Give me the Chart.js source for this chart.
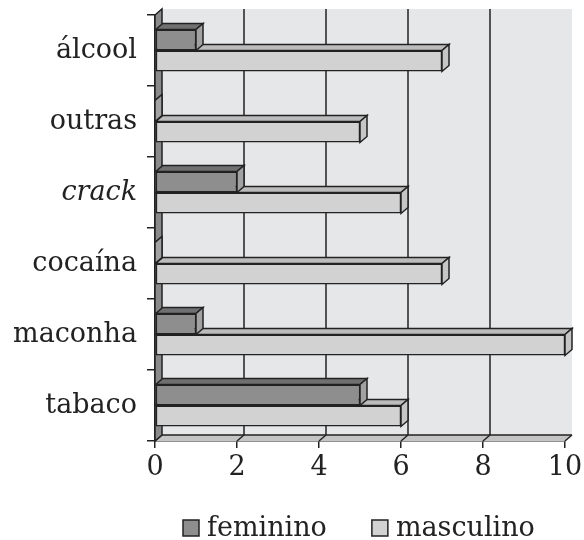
<!DOCTYPE html>
<html><head><meta charset="utf-8">
<script src="https://cdn.jsdelivr.net/npm/chart.js@4.4.1/dist/chart.umd.min.js"></script>
<style>html,body{margin:0;padding:0;background:#fff}#wrap{width:584px;height:540px}</style>
</head><body><div id="wrap"><canvas id="c" width="584" height="540"></canvas></div>
<script>
const categories = ['álcool', 'outras', 'crack', 'cocaína', 'maconha', 'tabaco'];
const seriesNames = ['feminino', 'masculino'];
const feminino = [1, 0, 2, 0, 1, 5];
const masculino = [7, 5, 6, 7, 10, 6];
const xTickValues = [0, 2, 4, 6, 8, 10];

const DX = 7, DY = -6;
const FONT = 'DejaVu Serif';
const INK = '#222';

function poly(ctx, pts, fill, stroke) {
  ctx.beginPath();
  ctx.moveTo(pts[0][0], pts[0][1]);
  for (let i = 1; i < pts.length; i++) ctx.lineTo(pts[i][0], pts[i][1]);
  ctx.closePath();
  if (fill) { ctx.fillStyle = fill; ctx.fill(); }
  if (stroke) { ctx.strokeStyle = stroke; ctx.stroke(); }
}

const depthPlugin = {
  id: 'depth',
  beforeDatasetsDraw(chart) {
    const { ctx, chartArea: a, scales: { x } } = chart;
    ctx.save();
    ctx.lineWidth = 1.5;
    ctx.fillStyle = '#e6e7e9';
    ctx.fillRect(a.left + DX, a.top + DY, a.right - a.left, a.bottom - a.top);
    ctx.strokeStyle = INK;
    xTickValues.forEach(v => {
      if (v <= x.min || v >= x.max) return;
      const px = x.getPixelForValue(v) + DX;
      ctx.beginPath(); ctx.moveTo(px, a.top + DY); ctx.lineTo(px, a.bottom + DY); ctx.stroke();
    });
    // floor
    poly(ctx, [[a.left, a.bottom], [a.left + DX, a.bottom + DY], [a.right + DX, a.bottom + DY], [a.right, a.bottom]], '#c4c4c4', null);
    ctx.strokeStyle = INK;
    ctx.beginPath(); ctx.moveTo(a.left + DX, a.bottom + DY); ctx.lineTo(a.right + DX, a.bottom + DY); ctx.stroke();
    xTickValues.forEach(v => {
      const px = x.getPixelForValue(v);
      ctx.beginPath(); ctx.moveTo(px, a.bottom); ctx.lineTo(px + DX, a.bottom + DY); ctx.stroke();
    });
    // left wall
    poly(ctx, [[a.left, a.top], [a.left + DX, a.top + DY], [a.left + DX, a.bottom + DY], [a.left, a.bottom]], '#8a8a8a', INK);
    ctx.restore();
  },
  afterDatasetDraw(chart, args) {
    const { ctx } = chart;
    const ds = chart.data.datasets[args.index];
    ctx.save();
    ctx.lineWidth = 1.5;
    args.meta.data.forEach(el => {
      const { x: xe, base, y, height } = el.getProps(['x', 'base', 'y', 'height'], true);
      const t = y - height / 2, b = y + height / 2;
      poly(ctx, [[base, t], [base + DX, t + DY], [xe + DX, t + DY], [xe, t]], ds.topColor, INK);
      poly(ctx, [[xe, t], [xe + DX, t + DY], [xe + DX, b + DY], [xe, b]], ds.sideColor, INK);
    });
    ctx.restore();
  },
  afterDraw(chart) {
    const { ctx } = chart;
    ctx.save();
    ctx.font = '27px "' + FONT + '"';
    ctx.textBaseline = 'alphabetic';
    ctx.lineWidth = 1.5;
    let x0 = 183;
    const baseY = 536;
    chart.data.datasets.forEach(ds => {
      ctx.fillStyle = ds.backgroundColor;
      ctx.fillRect(x0, baseY - 16, 16, 16);
      ctx.strokeStyle = INK;
      ctx.strokeRect(x0, baseY - 16, 16, 16);
      ctx.fillStyle = INK;
      const tx = x0 + 24;
      ctx.fillText(ds.label, tx, baseY);
      x0 = tx + ctx.measureText(ds.label).width + 45;
    });
    ctx.restore();
  }
};

Chart.defaults.font.family = FONT;
Chart.defaults.color = INK;

new Chart(document.getElementById('c'), {
  type: 'bar',
  data: {
    labels: categories,
    datasets: [
      { label: seriesNames[0], data: feminino, backgroundColor: '#8e8e8e', topColor: '#707070', sideColor: '#a2a2a2',
        borderColor: INK, borderWidth: 1.5, borderSkipped: false, barPercentage: 1, categoryPercentage: 0.59 },
      { label: seriesNames[1], data: masculino, backgroundColor: '#d2d2d2', topColor: '#bcbcbc', sideColor: '#c6c6c6',
        borderColor: INK, borderWidth: 1.5, borderSkipped: false, barPercentage: 1, categoryPercentage: 0.59 }
    ]
  },
  options: {
    indexAxis: 'y',
    responsive: false,
    animation: false,
    devicePixelRatio: 1,
    layout: { padding: { top: 15, right: 19, left: 0, bottom: 0 } },
    plugins: { legend: { display: false }, tooltip: { enabled: false } },
    scales: {
      x: {
        type: 'linear', min: 0, max: 10,
        afterBuildTicks: s => { s.ticks = xTickValues.map(v => ({ value: v })); },
        ticks: { color: INK, padding: 4, font: { size: 27, family: FONT } },
        grid: { drawOnChartArea: false, drawTicks: true, tickLength: 7, color: INK, lineWidth: 1.5 },
        border: { display: true, color: INK, width: 1.5 },
        afterFit: s => { s.height = 99; s.paddingLeft = 0; s.paddingRight = 0; }
      },
      y: {
        type: 'category', offset: true,
        ticks: {
          color: INK, padding: 10,
          font: ctx => ({ size: 27, family: FONT, style: ctx.index === 2 ? 'italic' : 'normal' })
        },
        grid: { offset: true, drawOnChartArea: false, drawTicks: true, tickLength: 8, color: INK, lineWidth: 1.5 },
        border: { display: true, color: INK, width: 1.5 },
        afterFit: s => { s.width = 155; s.paddingTop = 0; s.paddingBottom = 0; }
      }
    }
  },
  plugins: [depthPlugin]
});
</script>
</body></html>
